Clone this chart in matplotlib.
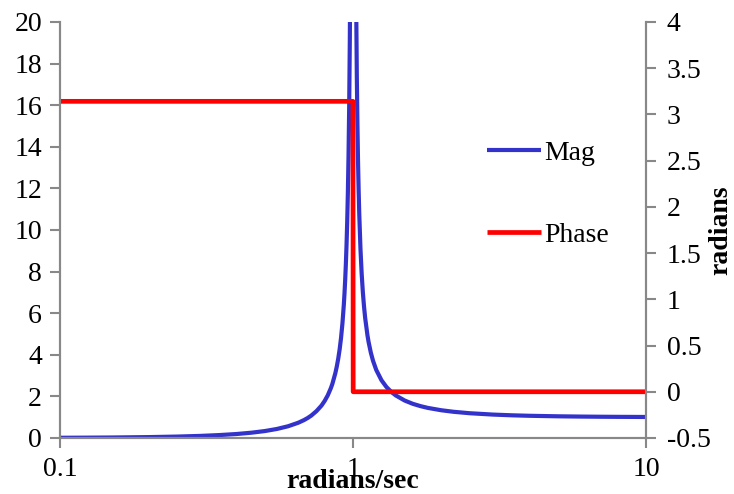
import matplotlib
matplotlib.use("Agg")
from matplotlib import pyplot as plt
from matplotlib.ticker import FixedLocator, FixedFormatter, NullLocator

# frequency samples (rad/s) and magnitude
freq = [0.1, 0.12, 0.15, 0.2, 0.25, 0.3, 0.35, 0.4, 0.45, 0.5, 0.55, 0.6,
        0.65, 0.68, 0.7, 0.72, 0.75, 0.78, 0.8, 0.82, 0.84, 0.85, 0.87,
        0.88, 0.89, 0.9, 0.91, 0.92, 0.93, 0.935, 0.94, 0.945, 0.95, 0.955,
        0.96, 0.965, 0.97, 0.975, 0.98, 0.985, 0.99,
        1.01, 1.015, 1.02, 1.025, 1.03, 1.035, 1.04, 1.045, 1.05, 1.06,
        1.07, 1.08, 1.09, 1.1, 1.12, 1.13, 1.15, 1.17, 1.2, 1.25, 1.3,
        1.35, 1.4, 1.5, 1.6, 1.7, 1.8, 2, 2.2, 2.5, 3, 3.5, 4, 5, 6, 7, 8,
        10]
mag = [0.010, 0.015, 0.023, 0.042, 0.067, 0.099, 0.140, 0.19, 0.254,
       0.333, 0.434, 0.563, 0.732, 0.860, 0.96, 1.076, 1.29, 1.554, 1.78,
       2.053, 2.397, 2.60, 3.114, 3.433, 3.810, 4.26, 4.817, 5.510, 6.40,
       6.951, 7.591, 8.348, 9.26, 10.37, 11.76, 13.54, 15.9, 19.2, 24.3,
       32.6, 49.3,
       50.8, 34.1, 25.8, 20.8, 17.4, 15.04, 13.25, 11.87, 10.76, 9.09,
       7.90, 7.01, 6.32, 5.76, 4.93, 4.61, 4.10, 3.71, 3.27, 2.778, 2.45,
       2.216, 2.042, 1.80, 1.641, 1.53, 1.446, 1.333, 1.260, 1.19, 1.125,
       1.089, 1.067, 1.042, 1.029, 1.021, 1.016, 1.010]

phase_freq = [0.1, 0.999, 1.001, 10]
phase = [3.1416, 3.1416, 0.0, 0.0]

plt.rcParams['font.family'] = ['Liberation Serif', 'DejaVu Serif']
GRAY = '#888888'
FS = 20

fig = plt.figure(figsize=(7.34, 4.94), dpi=100)
ax = fig.add_axes([0.0817, 0.1134, 0.7986, 0.8421])
ax2 = ax.twinx()

l1, = ax.plot(freq, mag, color='#3333CC', lw=3.0, label='Mag',
              solid_capstyle='butt', solid_joinstyle='round')
l2, = ax2.plot(phase_freq, phase, color='#FF0000', lw=3.4, label='Phase',
               solid_capstyle='butt')

ax.set_xscale('log')
ax.set_xlim(0.1, 10)
ax.set_ylim(0, 20)
ax2.set_ylim(-0.5, 4)

ax.xaxis.set_major_locator(FixedLocator([0.1, 1, 10]))
ax.xaxis.set_major_formatter(FixedFormatter(['0.1', '1', '10']))
ax.xaxis.set_minor_locator(NullLocator())
ax.set_yticks(range(0, 21, 2))
ax2.set_yticks([-0.5, 0, 0.5, 1, 1.5, 2, 2.5, 3, 3.5, 4])
ax2.set_yticklabels(['-0.5', '0', '0.5', '1', '1.5', '2', '2.5', '3',
                     '3.5', '4'])

for a in (ax, ax2):
    a.spines['top'].set_visible(False)
    for s in ('left', 'right', 'bottom'):
        a.spines[s].set_color(GRAY)
        a.spines[s].set_linewidth(1.5)
    a.tick_params(axis='both', colors=GRAY, labelcolor='black',
                  labelsize=FS, width=1.5, length=7, direction='out')
ax.tick_params(axis='x', pad=7)
ax.tick_params(axis='y', pad=6)
ax2.tick_params(axis='y', pad=8)

ax.set_xlabel('radians/sec', fontsize=FS, fontweight='bold', labelpad=-10)
ax2.set_ylabel('radians', fontsize=FS, fontweight='bold', labelpad=-2)

fig.legend(handles=[l1, l2], loc='upper left',
           bbox_to_anchor=(0.664, 0.716), frameon=False, fontsize=FS,
           labelspacing=2.05, handlelength=1.94, handletextpad=0.1,
           borderpad=0, borderaxespad=0)

fig.savefig('out.png', dpi=100)
